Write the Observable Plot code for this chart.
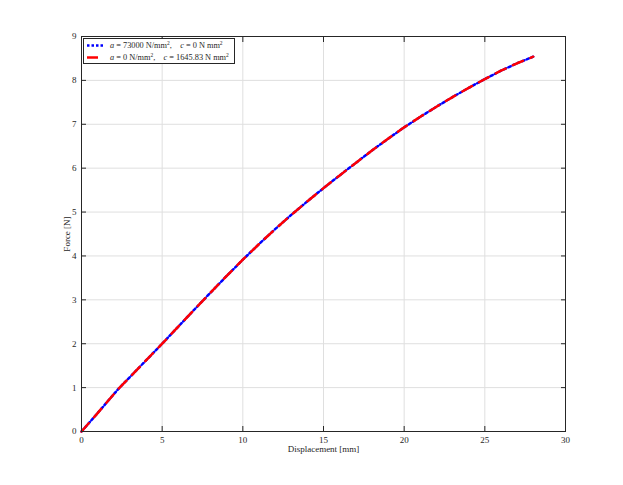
<!DOCTYPE html>
<html>
<head>
<meta charset="utf-8">
<script src="https://cdn.jsdelivr.net/npm/d3@7"></script>
<script src="https://cdn.jsdelivr.net/npm/@observablehq/plot@0.6"></script>
<style>
  html, body { margin: 0; padding: 0; background: white; }
  #wrap { position: relative; width: 623px; height: 485px; }
  #legend {
    position: absolute; left: 83px; top: 38px; width: 152px; height: 26px;
    border: 1px solid #262626; background: white; box-sizing: border-box;
    font-family: "Liberation Serif", serif; font-size: 8.3px; color: #262626;
  }
  .row { position: absolute; left: 2px; height: 11px; line-height: 11px; white-space: nowrap; }
  .row svg { position: absolute; left: 0; top: 0; }
  .row span { position: absolute; left: 24px; top: 0; }
  sup { font-size: 5.5px; vertical-align: 3px; line-height: 0; }
</style>
</head>
<body>
<div id="wrap"></div>
<script>
// Data
const displacement = [0, 1, 2, 2.36, 3, 4, 5, 6, 7, 8, 9, 10, 11, 12, 13, 14, 15, 16, 17, 18, 19, 20, 21, 22, 23, 24, 25, 26, 27, 28];
const force        = [0, 0.42, 0.85, 1.00, 1.24, 1.62, 2.00, 2.39, 2.78, 3.165, 3.545, 3.915, 4.27, 4.61, 4.935, 5.245, 5.545, 5.835, 6.12, 6.40, 6.67, 6.93, 7.17, 7.40, 7.62, 7.83, 8.03, 8.22, 8.39, 8.54];
const xTicks = [0, 5, 10, 15, 20, 25, 30];
const yTicks = [0, 1, 2, 3, 4, 5, 6, 7, 8, 9];
const seriesLabels = ["a = 73000 N/mm², c = 0 N mm²", "a = 0 N/mm², c = 1645.83 N mm²"];

const data = displacement.map((x, i) => ({x, y: force[i]}));
const axisColor = "#262626";

const chart = Plot.plot({
  width: 623, height: 485,
  marginLeft: 81, marginRight: 58, marginTop: 36, marginBottom: 54,
  style: {fontFamily: "Liberation Serif, serif", fontSize: "9px", color: axisColor, background: "white"},
  x: {domain: [0, 30]},
  y: {domain: [0, 9]},
  marks: [
    Plot.gridX(xTicks, {stroke: "#dfdfdf", strokeOpacity: 1}),
    Plot.gridY(yTicks, {stroke: "#dfdfdf", strokeOpacity: 1}),
    Plot.line(data, {x: "x", y: "y", stroke: "#0000ff", strokeWidth: 2.5, strokeDasharray: "2.5,2.5"}),
    Plot.line(data, {x: "x", y: "y", stroke: "#ff0000", strokeWidth: 2.5, strokeDasharray: "11,8"}),
    Plot.frame({stroke: axisColor, strokeWidth: 1}),
    Plot.axisX(xTicks, {anchor: "bottom", tickSize: 0, tickPadding: 5, label: "Displacement [mm]", labelAnchor: "center", labelOffset: 20, labelArrow: "none"}),
    Plot.axisY(yTicks, {anchor: "left", tickSize: 0, tickPadding: 5, label: "Force [N]", labelAnchor: "center", labelOffset: 18, labelArrow: "none"}),
    Plot.axisX(xTicks, {anchor: "bottom", tickSize: -5, tickFormat: () => "", label: null, stroke: axisColor}),
    Plot.axisX(xTicks, {anchor: "top", tickSize: -5, tickFormat: () => "", label: null, stroke: axisColor}),
    Plot.axisY(yTicks, {anchor: "left", tickSize: -5, tickFormat: () => "", label: null, stroke: axisColor}),
    Plot.axisY(yTicks, {anchor: "right", tickSize: -5, tickFormat: () => "", label: null, stroke: axisColor})
  ]
});

const wrap = document.getElementById("wrap");
wrap.appendChild(chart);

const legend = document.createElement("div");
legend.id = "legend";
const fmt = (s) => s.replace(/\b([ac]) =/g, "<i>$1</i> =").replace(/²/g, "<sup>2</sup>").replace(", ", ", &nbsp;&nbsp;&nbsp;");
legend.innerHTML = `
  <div class="row" style="top:1px">
    <svg width="22" height="11"><line x1="1" x2="18" y1="5.5" y2="5.5" stroke="#0000ff" stroke-width="2.5" stroke-dasharray="2.5,2"/></svg>
    <span>${fmt(seriesLabels[0])}</span>
  </div>
  <div class="row" style="top:12.5px">
    <svg width="22" height="11"><line x1="1" x2="12" y1="5.5" y2="5.5" stroke="#ff0000" stroke-width="2.5"/></svg>
    <span>${fmt(seriesLabels[1])}</span>
  </div>`;
wrap.appendChild(legend);
</script>
</body>
</html>
